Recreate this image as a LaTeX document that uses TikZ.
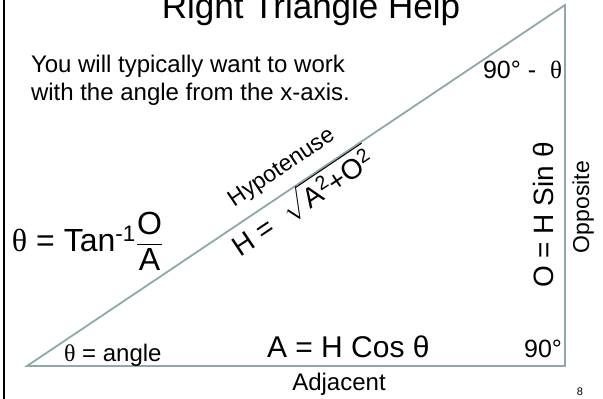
\documentclass[tikz,border=0pt]{standalone}
\usepackage{amsmath}
\usepackage{fontspec}
\setmainfont{Liberation Sans}
\newfontfamily\serifth{Liberation Serif}
\definecolor{triline}{RGB}{143,168,172}
\newcommand{\fs}[1]{\fontsize{#1}{#1}\selectfont}
\newcommand{\sth}{{\serifth θ}}
\begin{document}
\begin{tikzpicture}[x=1pt,y=-1pt,
  lbl/.style={inner sep=0pt, outer sep=0pt},
  tri/.style={draw=triline, line width=1.8pt, line join=miter}]
\useasboundingbox (0,0) rectangle (603,399);
\fill[white] (0,0) rectangle (603,399);
% left border
\coordinate (bt) at (4,0);
\coordinate (bb) at (4,399);
\draw[line width=2.2pt] (bt) -- (bb);
% triangle
\coordinate (L) at (27,366);
\coordinate (R) at (565,366);
\coordinate (T) at (565,5);
\draw[tri] (L) -- (R) -- (T) -- cycle;
% title
\node[lbl, anchor=base, font=\fs{35}] (title) at (311,18) {Right Triangle Help};
% text
\node[lbl, anchor=base west, font=\fs{24}] (txt1) at (31,72) {You will typically want to work};
\node[lbl, anchor=base west, font=\fs{24}] (txt2) at (31,100) {with the angle from the x-axis.};
\node[lbl, anchor=base east, font=\fs{25}] (top) at (562,78) {90° -\ \ \sth};
\node[lbl, anchor=base west, font=\fs{23}, rotate=33.86] (hyp) at (234,207) {Hypotenuse};
\node[lbl, anchor=base west, font=\fs{28}, rotate=33.86] (hform) at (240,257)
  {H =\ \ $\sqrt{\mbox{A\textsuperscript{2}+O\textsuperscript{2}}}$};
\node[lbl, anchor=base west, font=\fs{32}] (tan) at (12,251)
  {\sth{} = Tan\textsuperscript{-1}$\genfrac{}{}{1.2pt}{0}{\mbox{O}}{\mbox{A}}$};
\node[lbl, anchor=base, font=\fs{28}, rotate=90] (sin) at (553,215) {O = H Sin θ};
\node[lbl, anchor=base, font=\fs{23}, rotate=90] (opp) at (589,207) {Opposite};
\node[lbl, anchor=base west, font=\fs{30}] (cos) at (267,357) {A = H Cos θ};
\node[lbl, anchor=base east, font=\fs{25}] (ninety) at (562,357) {90°};
\node[lbl, anchor=base west, font=\fs{24}] (ang) at (64,361) {\sth{} = angle};
\node[lbl, anchor=base, font=\fs{24}] (adj) at (339,390) {Adjacent};
\node[lbl, anchor=base, font=\fs{11}] (pg) at (580,395) {8};
\end{tikzpicture}
\end{document}
